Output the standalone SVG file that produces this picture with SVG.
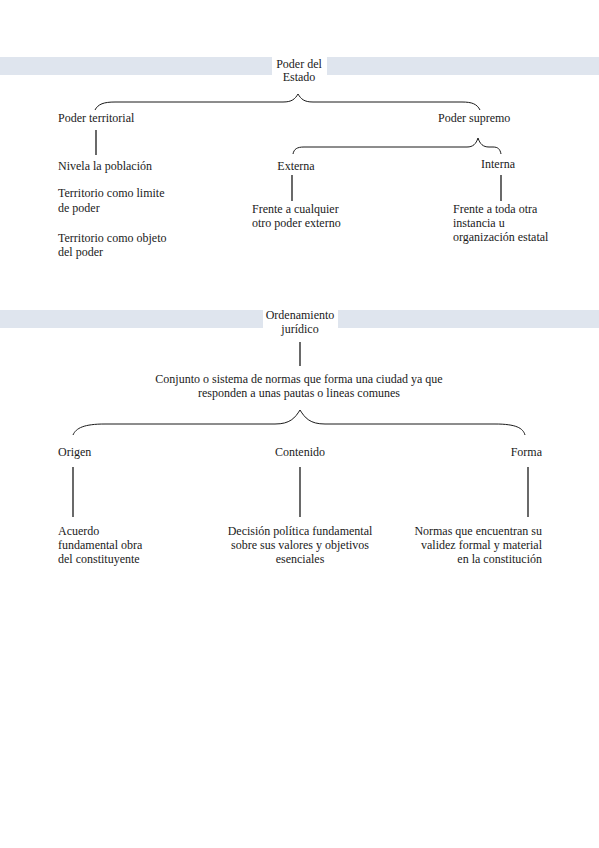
<svg xmlns="http://www.w3.org/2000/svg" width="599" height="848" viewBox="0 0 599 848">
<style>
text{font-family:"Liberation Serif","Times New Roman",serif;font-size:12px;fill:#1a1a1a}
.m{text-anchor:middle}.e{text-anchor:end}
.band{fill:#dfe5ee}
.ln{stroke:#1a1a1a;stroke-width:1.3;fill:none}
.br{stroke:#1a1a1a;stroke-width:1;fill:none}
</style>
<rect width="599" height="848" fill="#fff"/>
<rect class="band" x="0" y="57" width="599" height="18"/>
<rect x="272" y="57" width="55" height="18" fill="#fff"/>
<rect class="band" x="0" y="310" width="599" height="18"/>
<rect x="263" y="310" width="75" height="18" fill="#fff"/>
<g id="connectors">
<path class="br" d="M95,110 C98,104 104,102 115,102 L283,102 C292,102 295,99 298,94 C301,99 304,102 313,102 L462,102 C472,102 477,104 480,110"/>
<path class="br" d="M293,154 C294,149 297,147 304,147 L467,147 C473,147 476,144 478,138 C480,144 483,147 489,147 L493,147 C498,147 500,149 501,154"/>
<path class="br" d="M73,435 C76,428 84,424 105,424 L275,424 C290,424 295,418 300,410 C305,418 310,424 325,424 L495,424 C516,424 523,428 525,435"/>
<line class="ln" x1="96" y1="130" x2="96" y2="155"/>
<line class="ln" x1="292" y1="175" x2="292" y2="201"/>
<line class="ln" x1="501" y1="175" x2="501" y2="201"/>
<line class="ln" x1="300" y1="342" x2="300" y2="366"/>
<line class="ln" x1="73" y1="467" x2="73" y2="517"/>
<line class="ln" x1="300" y1="467" x2="300" y2="517"/>
<line class="ln" x1="528" y1="467" x2="528" y2="517"/>
</g>
<g id="poder-estado"><text class="m" x="299" y="68">Poder del</text><text class="m" x="299" y="81">Estado</text></g>
<g id="poder-territorial"><text x="58" y="122">Poder territorial</text></g>
<g id="poder-supremo"><text x="438" y="122">Poder supremo</text></g>
<g id="nivela"><text x="58" y="170">Nivela la población</text></g>
<g id="territorio-limite"><text x="58" y="197">Territorio como limite</text><text x="58" y="212">de poder</text></g>
<g id="territorio-objeto"><text x="58" y="242">Territorio como objeto</text><text x="58" y="256">del poder</text></g>
<g id="externa"><text class="m" x="296" y="170">Externa</text></g>
<g id="interna"><text class="m" x="498" y="168">Interna</text></g>
<g id="frente-externo"><text x="252" y="213">Frente a cualquier</text><text x="252" y="227">otro poder externo</text></g>
<g id="frente-interno"><text x="453" y="213">Frente a toda otra</text><text x="453" y="227">instancia u</text><text x="453" y="241">organización estatal</text></g>
<g id="ordenamiento"><text class="m" x="300" y="319">Ordenamiento</text><text class="m" x="300" y="333">jurídico</text></g>
<g id="conjunto"><text class="m" x="299" y="383">Conjunto o sistema de normas que forma una ciudad ya que</text><text class="m" x="299" y="397">responden a unas pautas o lineas comunes</text></g>
<g id="origen"><text x="58" y="456">Origen</text></g>
<g id="contenido"><text class="m" x="300" y="456">Contenido</text></g>
<g id="forma"><text class="e" x="542" y="456">Forma</text></g>
<g id="acuerdo"><text x="58" y="535">Acuerdo</text><text x="58" y="549">fundamental obra</text><text x="58" y="563">del constituyente</text></g>
<g id="decision"><text class="m" x="300" y="535">Decisión política fundamental</text><text class="m" x="300" y="549">sobre sus valores y objetivos</text><text class="m" x="300" y="563">esenciales</text></g>
<g id="normas"><text class="e" x="542" y="535">Normas que encuentran su</text><text class="e" x="542" y="549">validez formal y material</text><text class="e" x="542" y="563">en la constitución</text></g>
</svg>
